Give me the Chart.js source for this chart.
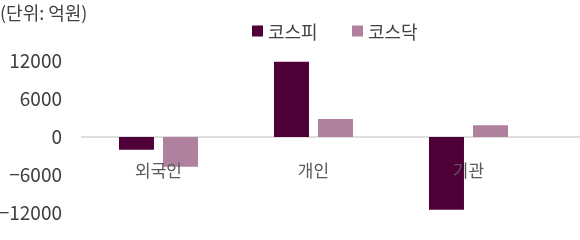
<!DOCTYPE html>
<html>
<head>
<meta charset="utf-8">
<script src="https://cdn.jsdelivr.net/npm/chart.js@4/dist/chart.umd.min.js"></script>
<style>
  html, body { margin: 0; padding: 0; background: #fff; }
  #wrap { width: 580px; height: 240px; position: relative; }
</style>
</head>
<body>
<div id="wrap"><canvas id="c"></canvas></div>
<script>
// data
var categories = ['외국인', '개인', '기관'];
var seriesNames = ['코스피', '코스닥'];
var kospi = [-2000, 11900, -11500];
var kosdaq = [-4700, 2850, 1850];
var yTicks = [-12000, -6000, 0, 6000, 12000];
var unitLabel = '(단위: 억원)';

var colors = ['#500038', '#b0809f'];
var FONT = "'Noto Sans CJK KR', 'Noto Sans', sans-serif";

// light zero line running out to the right edge like the original
var zeroLine = {
    id: 'zeroLine',
    beforeDatasetsDraw: function(chart) {
        var ctx = chart.ctx;
        var y = chart.scales.y.getPixelForValue(0);
        ctx.save();
        ctx.strokeStyle = '#dedede';
        ctx.lineWidth = 2;
        ctx.beginPath();
        ctx.moveTo(chart.chartArea.left, y);
        ctx.lineTo(chart.width, y);
        ctx.stroke();
        ctx.restore();
    }
};

// legend drawn from the datasets, placed like the excel one
var topLegend = {
    id: 'topLegend',
    afterDraw: function(chart) {
        var ctx = chart.ctx;
        var x = 252, y = 31;
        ctx.save();
        ctx.font = '18px ' + FONT;
        ctx.textBaseline = 'middle';
        ctx.textAlign = 'left';
        chart.data.datasets.forEach(function(ds) {
            ctx.fillStyle = ds.backgroundColor;
            ctx.fillRect(x, y - 5.5, 11, 11);
            ctx.fillStyle = '#404040';
            ctx.fillText(ds.label, x + 16, y + 1);
            x += 100;
        });
        ctx.restore();
    }
};

var chart = new Chart(document.getElementById('c'), {
    type: 'bar',
    data: {
        labels: categories,
        datasets: [{
            label: seriesNames[0],
            data: kospi,
            backgroundColor: colors[0],
            categoryPercentage: 0.568,
            barPercentage: 0.795
        }, {
            label: seriesNames[1],
            data: kosdaq,
            backgroundColor: colors[1],
            categoryPercentage: 0.568,
            barPercentage: 0.795
        }]
    },
    options: {
        responsive: true,
        maintainAspectRatio: false,
        animation: false,
        layout: { padding: { left: 0, right: 34, top: 0, bottom: 27 } },
        plugins: {
            legend: { display: false },
            tooltip: { enabled: false },
            title: {
                display: true,
                text: unitLabel,
                align: 'start',
                color: '#404040',
                font: { family: FONT, size: 18, weight: 'normal' },
                padding: { top: 2, bottom: 37.4 }
            }
        },
        scales: {
            x: {
                position: { y: 0 },
                grid: { display: false, drawTicks: false },
                border: { display: false },
                ticks: {
                    z: 1,
                    color: '#595959',
                    padding: 23,
                    font: { family: FONT, size: 17 }
                },
                afterFit: function(scale) { scale.height = 0; }
            },
            y: {
                min: -12000,
                max: 12000,
                grid: { display: false, drawTicks: false },
                border: { display: false },
                afterBuildTicks: function(scale) {
                    scale.ticks = yTicks.map(function(v) { return { value: v }; });
                },
                afterFit: function(scale) {
                    scale.width = 81;
                    scale.paddingTop = 0;
                    scale.paddingBottom = 0;
                },
                ticks: {
                    color: '#404040',
                    padding: 19,
                    font: { family: FONT, size: 19 },
                    callback: function(v) {
                        return v < 0 ? '\u2212' + Math.abs(v) : String(v);
                    }
                }
            }
        }
    },
    plugins: [zeroLine, topLegend]
});
</script>
</body>
</html>
